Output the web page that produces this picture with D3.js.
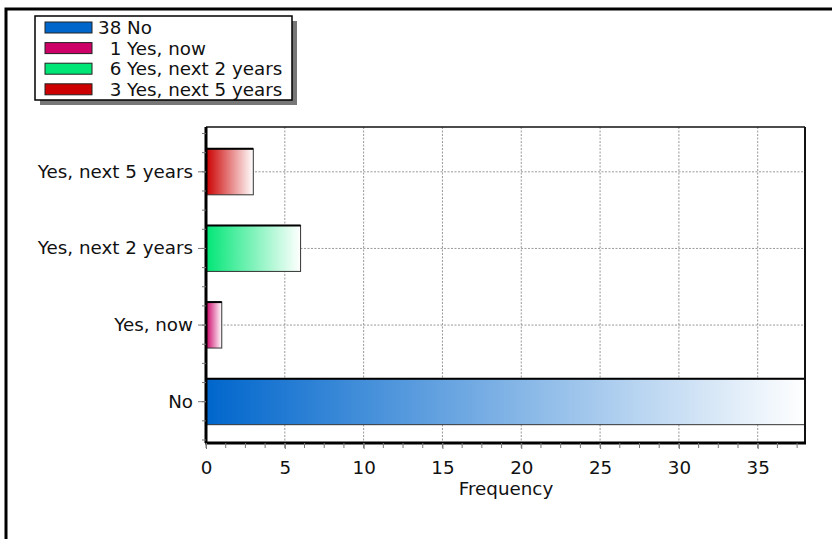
<!DOCTYPE html>
<html lang="en">
<head>
<meta charset="UTF-8">
<title>Frequency</title>
<style>
  * { margin: 0; padding: 0; }
  body { background: #fff; }
  text { font-family: "DejaVu Sans", Verdana, sans-serif; }
</style>
</head>
<body>
<div id="chart-area"></div>
<script src="https://cdn.jsdelivr.net/npm/d3@7"></script>
<script>
const categories = ['No', 'Yes, now', 'Yes, next 2 years', 'Yes, next 5 years']
const counts = [38, 1, 6, 3]
const colors = ['#0066cc', '#cc0066', '#00e676', '#cc0000']
const xTicks = [0, 5, 10, 15, 20, 25, 30, 35]

const width = 832, height = 539
const fs = 18.3
const svg = d3.select('#chart-area').append('svg')
  .attr('width', width)
  .attr('height', height)

// outer frame
svg.append('rect')
  .attr('x', 6).attr('y', 9)
  .attr('width', 840).attr('height', 560)
  .attr('fill', 'none').attr('stroke', '#000').attr('stroke-width', 3)

const pLeft = 206, pRight = 805, pTop = 127, pBottom = 443

const x = d3.scaleLinear().domain([0, 38]).range([pLeft, pRight])
const y = d3.scaleBand().domain(categories).range([440, 133.5]).paddingInner(0).paddingOuter(0)

const defs = svg.append('defs')
colors.forEach((c, i) => {
  const g = defs.append('linearGradient').attr('id', 'grad' + i)
    .attr('x1', '0%').attr('x2', '100%').attr('y1', '0%').attr('y2', '0%')
  g.append('stop').attr('offset', '0%').attr('stop-color', c)
  g.append('stop').attr('offset', '100%').attr('stop-color', '#fff')
})

// gridlines
svg.append('g').selectAll('line').data(xTicks.filter(d => d > 0)).join('line')
  .attr('x1', d => x(d)).attr('x2', d => x(d))
  .attr('y1', pTop).attr('y2', pBottom)
  .attr('stroke', '#999').attr('stroke-dasharray', '2,1.5')
svg.append('g').selectAll('line').data(categories).join('line')
  .attr('x1', pLeft).attr('x2', pRight)
  .attr('y1', d => y(d) + y.bandwidth() / 2).attr('y2', d => y(d) + y.bandwidth() / 2)
  .attr('stroke', '#999').attr('stroke-dasharray', '2,1.5')

// bars
const bh = y.bandwidth() * 0.6
const bars = svg.append('g').selectAll('g').data(categories).join('g')
bars.append('rect')
  .attr('x', x(0))
  .attr('y', d => y(d) + (y.bandwidth() - bh) / 2)
  .attr('width', (d, i) => x(counts[i]) - x(0))
  .attr('height', bh)
  .attr('fill', (d, i) => 'url(#grad' + i + ')')
  .attr('stroke', '#333').attr('stroke-width', 1)
bars.append('line')
  .attr('x1', x(0)).attr('x2', (d, i) => x(counts[i]))
  .attr('y1', d => y(d) + (y.bandwidth() - bh) / 2).attr('y2', d => y(d) + (y.bandwidth() - bh) / 2)
  .attr('stroke', '#000').attr('stroke-width', 2)

// plot frame
svg.append('line').attr('x1', pLeft).attr('x2', pRight).attr('y1', pTop).attr('y2', pTop)
  .attr('stroke', '#111').attr('stroke-width', 1.5)
svg.append('line').attr('x1', pRight).attr('x2', pRight).attr('y1', pTop).attr('y2', pBottom)
  .attr('stroke', '#111').attr('stroke-width', 2)

// x axis
const xAxis = svg.append('g').attr('transform', `translate(0,${pBottom})`)
  .call(d3.axisBottom(x).tickValues(xTicks).tickSize(6).tickPadding(12).tickFormat(d3.format('d')))
xAxis.select('.domain').attr('stroke', '#000').attr('stroke-width', 3).attr('d', `M${pLeft - 1},0H${pRight + 1}`)
xAxis.selectAll('.tick line').attr('stroke', '#777')
xAxis.selectAll('text').attr('font-size', fs).attr('fill', '#111')
  .attr('font-family', '"DejaVu Sans", Verdana, sans-serif')
svg.append('g').selectAll('line').data(d3.range(0, 38.01, 1.25)).join('line')
  .attr('x1', d => x(d)).attr('x2', d => x(d))
  .attr('y1', pBottom).attr('y2', pBottom + 5)
  .attr('stroke', '#777')

// y axis
const yAxis = svg.append('g').attr('transform', `translate(${pLeft},0)`)
  .call(d3.axisLeft(y).tickSize(8).tickPadding(5))
yAxis.select('.domain').attr('stroke', '#000').attr('stroke-width', 3).attr('d', `M0,${pTop}V${pBottom}`)
yAxis.selectAll('.tick line').attr('stroke', '#777')
yAxis.selectAll('text').attr('font-size', fs).attr('fill', '#111')
  .attr('font-family', '"DejaVu Sans", Verdana, sans-serif')
const quarter = y.bandwidth() / 4
svg.append('g').selectAll('line').data(d3.range(0, 17)).join('line')
  .attr('x1', pLeft - 4).attr('x2', pLeft)
  .attr('y1', d => 133.5 + d * quarter).attr('y2', d => 133.5 + d * quarter)
  .attr('stroke', '#777')

svg.append('text')
  .attr('x', 506).attr('y', 495)
  .attr('text-anchor', 'middle').attr('font-size', fs).attr('fill', '#111')
  .text('Frequency')

// legend
const lg = svg.append('g')
lg.append('rect').attr('x', 40).attr('y', 21).attr('width', 257).attr('height', 84).attr('fill', '#777')
lg.append('rect').attr('x', 35).attr('y', 16).attr('width', 257).attr('height', 84)
  .attr('fill', '#fff').attr('stroke', '#000').attr('stroke-width', 1.5)
const labels = categories.map((c, i) => (counts[i] < 10 ? '\u2007' : '') + counts[i] + ' ' + c)
lg.selectAll('.sw').data(categories).join('rect')
  .attr('x', 45).attr('y', (d, i) => 22 + i * 20.6)
  .attr('width', 47).attr('height', 11)
  .attr('fill', (d, i) => colors[i]).attr('stroke', '#222')
lg.selectAll('.lt').data(labels).join('text')
  .attr('x', 98).attr('y', (d, i) => 34 + i * 20.6)
  .attr('font-size', fs).attr('fill', '#111')
  .text(d => d)
</script>
</body>
</html>
